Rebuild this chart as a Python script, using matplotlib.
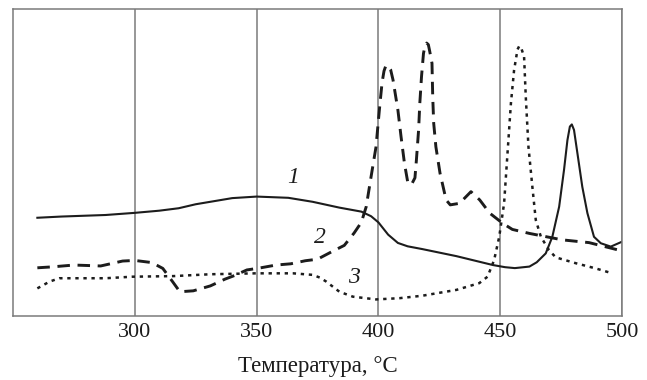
import matplotlib
matplotlib.use("Agg")
import matplotlib.pyplot as plt

# ---------- Data ----------
t1 = [260, 270, 288, 300, 310, 318, 325, 331, 340, 350, 363, 373, 384, 393,
      397, 400, 404, 408, 412, 418, 432, 447, 452, 456, 462, 465, 468.7, 471.4,
      474.2, 476.2, 477.6, 478.6, 479.4, 480.3, 481.7, 483.7, 485.8, 488.5,
      491.3, 495.4, 500]
y1 = [32.0, 32.4, 32.9, 33.6, 34.3, 35.1, 36.4, 37.2, 38.4, 38.9, 38.5, 37.2,
      35.3, 34.0, 32.5, 30.5, 26.5, 23.8, 22.7, 21.8, 19.5, 16.6, 15.9, 15.6,
      16.1, 17.5, 20.4, 25.8, 35.6, 47.6, 57.3, 61.7, 62.4, 60.6, 53.0, 42.1,
      33.5, 25.8, 23.7, 22.6, 24.2]

t2 = [260, 266, 275, 286, 295, 300, 307, 311.5, 315.5, 318.5, 324, 331, 337,
      341, 346, 351, 358, 364, 370, 375, 381, 386, 390, 393, 395, 397, 399,
      400.5, 401.5, 402.3, 403, 404, 405, 406, 408, 409.3, 410.7, 412, 413.5,
      415, 415.6, 416.5, 417, 417.7, 418.5, 419.2, 419.8, 420.5, 421, 422,
      422.3, 422.7, 423.6, 425.3, 427.8, 429.5, 433.3, 438, 441.6, 445.7, 451,
      455, 462, 475.5, 486.5, 500]
y2 = [15.7, 16.0, 16.6, 16.3, 17.9, 18.1, 17.4, 15.5, 11.2, 7.9, 8.2, 9.8,
      12.0, 13.2, 15.0, 15.6, 16.6, 17.0, 18.0, 18.5, 21.0, 23.0, 27.0, 30.5,
      35.6, 45.4, 55.0, 68.0, 76.0, 79.8, 81.4, 81.6, 80.3, 76.9, 67.1, 58.4,
      49.7, 43.8, 42.7, 45.0, 50.8, 60.6, 69.3, 78.0, 85.5, 88.3, 88.9, 88.4,
      86.5, 82.3, 71.4, 62.8, 55.1, 46.5, 37.8, 36.2, 36.7, 40.5, 37.8, 33.5,
      30.2, 28.2, 26.9, 24.8, 23.9, 21.2]

t3 = [260, 265, 269, 288, 299, 316, 331, 350, 365, 373, 376, 378.6, 384,
      389.5, 399, 408.6, 418, 432, 441.4, 444.8, 447.5, 449.6, 451.6, 453,
      454.4, 455.7, 457.1, 457.8, 458.5, 459.8, 460.5, 461.6, 463.2, 464.6,
      466.7, 470, 472.8, 481, 489.2, 496]
y3 = [9.0, 11.2, 12.3, 12.3, 12.8, 13.0, 13.6, 13.9, 13.9, 13.4, 12.5, 11.2,
      7.9, 6.3, 5.4, 5.8, 6.6, 8.5, 10.7, 12.8, 18.2, 25.8, 36.7, 53.0, 69.3,
      80.1, 86.8, 87.9, 87.6, 84.5, 71.4, 55.1, 42.1, 31.3, 25.8, 21.5, 19.1,
      17.2, 15.5, 13.9]

curve_labels = ["1", "2", "3"]
label_t = [364.9, 376.1, 389.8]
label_y = [45.0, 25.5, 12.5]

x_ticks = [300, 350, 400, 450, 500]

# ---------- Style ----------
plt.rcParams["font.family"] = ["Liberation Serif", "DejaVu Serif"]
plt.rcParams["lines.scale_dashes"] = False
ink = "#1c1c1c"
grid_c = "#7a7a7a"

fig = plt.figure(figsize=(6.47, 3.80), dpi=100)
ax = fig.add_axes([13 / 647, 1 - 316 / 380, (622 - 13) / 647, (316 - 9) / 380])

# ---------- Curves ----------
ax.plot(t1, y1, color=ink, lw=1.5, solid_joinstyle="round")
ax.plot(t2, y2, color=ink, lw=2.1, dashes=(9, 5.5), dash_joinstyle="round")
ax.plot(t3, y3, color=ink, lw=1.8, dashes=(2.4, 3.4))

for lab, tx, ty in zip(curve_labels, label_t, label_y):
    ax.text(tx, ty, lab, fontsize=17, style="italic", color=ink,
            ha="center", va="center")

# ---------- Axes ----------
ax.set_xlim(250, 500)
ax.set_ylim(0, 100)
ax.set_xticks(x_ticks)
ax.set_xticklabels([str(v) for v in x_ticks], fontsize=16, color=ink)
ax.set_yticks([])
ax.tick_params(axis="x", length=0, pad=5)
for v in x_ticks:
    ax.axvline(v, color=grid_c, lw=1.1, zorder=0)
for s in ax.spines.values():
    s.set_color(grid_c)
    s.set_linewidth(1.1)
ax.set_xlabel("Температура, °C", fontsize=16.5, color=ink, labelpad=10)

fig.savefig("out.png", dpi=100)
